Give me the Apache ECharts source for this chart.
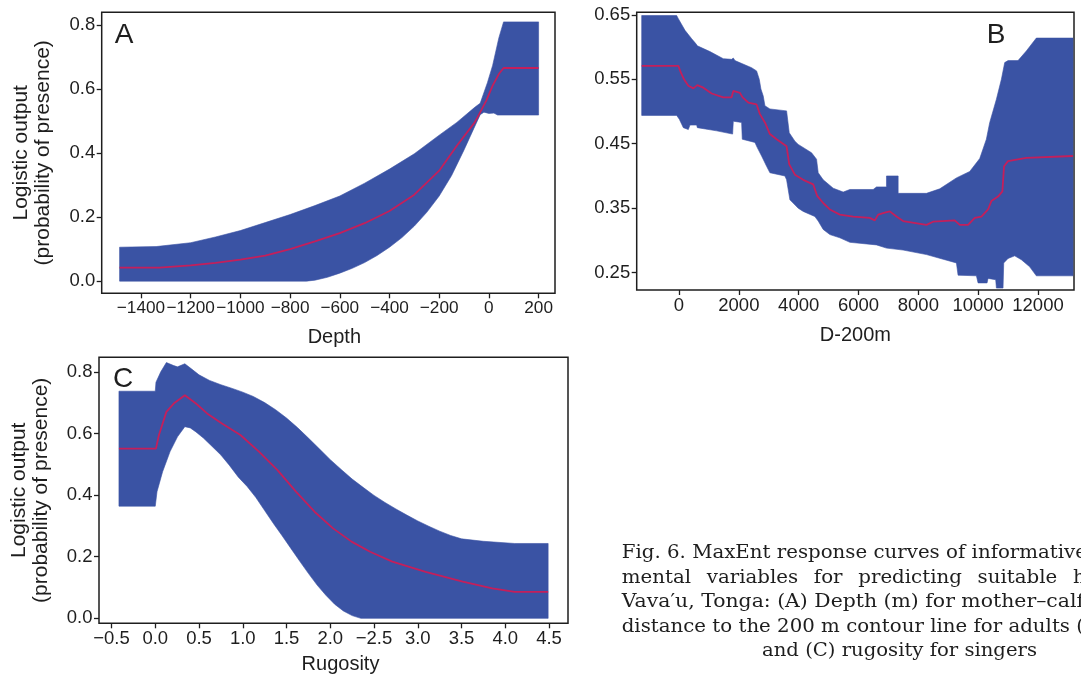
<!DOCTYPE html>
<html><head><meta charset="utf-8">
<script src="https://cdn.jsdelivr.net/npm/echarts@6/dist/echarts.min.js"></script>
<style>html,body{margin:0;padding:0;background:#fff}#c{width:1081px;height:678px}</style>
</head><body><div id="c"></div>
<script>
// ---------- Panel A : Depth ----------
const aXTicks = [-1400, -1200, -1000, -800, -600, -400, -200, 0, 200];
const aYTicks = [0, 0.2, 0.4, 0.6, 0.8];
const aUpper = [[-1486,0.106],[-1339,0.108],[-1200,0.12],[-1100,0.138],[-1000,0.158],[-900,0.183],[-800,0.208],[-700,0.236],[-600,0.266],[-500,0.306],[-400,0.35],[-300,0.398],[-200,0.456],[-129,0.496],[-57,0.543],[-35,0.556],[-6,0.62],[15,0.674],[40,0.76],[59,0.81],[200,0.81]];
const aLower = [[-1486,0],[-734,0],[-700,0.003],[-650,0.012],[-600,0.025],[-550,0.04],[-500,0.058],[-450,0.08],[-400,0.106],[-350,0.136],[-300,0.172],[-250,0.215],[-200,0.266],[-150,0.33],[-100,0.41],[-60,0.478],[-35,0.52],[-20,0.528],[0,0.524],[20,0.525],[35,0.519],[200,0.519]];
const aMean  = [[-1486,0.042],[-1325,0.042],[-1200,0.049],[-1100,0.057],[-1000,0.067],[-900,0.08],[-800,0.1],[-700,0.124],[-600,0.15],[-500,0.181],[-400,0.219],[-300,0.27],[-200,0.345],[-129,0.423],[-57,0.496],[-30,0.535],[-10,0.565],[15,0.611],[40,0.647],[59,0.666],[200,0.666]];

// ---------- Panel B : D-200m ----------
const bXTicks = [0, 2000, 4000, 6000, 8000, 10000, 12000];
const bYTicks = [0.25, 0.35, 0.45, 0.55, 0.65];
const bUpper = [[-1247,0.649],[-78,0.649],[-22,0.644],[200,0.626],[423,0.613],[568,0.605],[612,0.602],[1035,0.593],[1480,0.582],[1759,0.581],[1815,0.583],[1870,0.579],[2427,0.568],[2594,0.563],[2683,0.55],[2738,0.535],[2816,0.524],[2872,0.509],[3039,0.504],[3596,0.501],[3685,0.467],[3874,0.454],[3985,0.449],[4430,0.436],[4597,0.426],[4653,0.405],[4820,0.394],[5154,0.381],[5488,0.375],[5711,0.379],[6490,0.379],[6601,0.383],[6935,0.383],[6935,0.4],[7325,0.4],[7325,0.373],[8271,0.373],[8716,0.38],[9273,0.397],[9718,0.407],[10052,0.427],[10274,0.457],[10386,0.483],[10609,0.519],[10776,0.55],[10887,0.576],[10999,0.579],[11332,0.579],[11610,0.594],[11944,0.614],[13169,0.614]];
const bLower = [[-1247,0.494],[-78,0.494],[11,0.488],[145,0.475],[312,0.472],[367,0.479],[590,0.479],[612,0.475],[1258,0.47],[1792,0.465],[1815,0.485],[2093,0.483],[2115,0.457],[2538,0.452],[2616,0.444],[2761,0.431],[2928,0.415],[3039,0.405],[3540,0.4],[3596,0.394],[3707,0.363],[3985,0.35],[4152,0.345],[4542,0.337],[4653,0.33],[4820,0.317],[5043,0.309],[5376,0.304],[5711,0.297],[6601,0.293],[6935,0.288],[7491,0.285],[8271,0.278],[9273,0.265],[9328,0.246],[9941,0.245],[9996,0.234],[10297,0.234],[10330,0.241],[10586,0.239],[10609,0.226],[10831,0.226],[10854,0.265],[10999,0.272],[11221,0.276],[11444,0.27],[11722,0.259],[11944,0.245],[13169,0.245]];
const bMean  = [[-1247,0.571],[-22,0.571],[56,0.561],[167,0.55],[312,0.54],[479,0.536],[612,0.541],[813,0.537],[1091,0.528],[1480,0.522],[1759,0.522],[1815,0.532],[2037,0.529],[2126,0.522],[2315,0.514],[2594,0.511],[2705,0.496],[2872,0.483],[3039,0.465],[3262,0.457],[3596,0.446],[3685,0.418],[3874,0.402],[4152,0.394],[4486,0.387],[4620,0.369],[4820,0.358],[5043,0.348],[5376,0.34],[5822,0.337],[6379,0.335],[6546,0.331],[6657,0.34],[6879,0.343],[7046,0.345],[7269,0.337],[7491,0.33],[8271,0.324],[8493,0.329],[9217,0.331],[9384,0.324],[9662,0.324],[9885,0.335],[10108,0.337],[10330,0.348],[10441,0.361],[10664,0.368],[10809,0.376],[10865,0.415],[10999,0.423],[11610,0.428],[13169,0.431]];

// ---------- Panel C : Rugosity ----------
const cXTicks = [-0.5, 0, 0.5, 1, 1.5, 2, 2.5, 3, 3.5, 4, 4.5];
const cXTickLabels = ['\u22120.5','0.0','0.5','1.0','1.5','2.0','\u22122.5','3.0','3.5','4.0','4.5'];
const cYTicks = [0, 0.2, 0.4, 0.6, 0.8];
const cUpper = [[-0.415,0.737],[0.0,0.737],[0.008,0.766],[0.063,0.8],[0.127,0.83],[0.211,0.82],[0.254,0.816],[0.338,0.826],[0.42,0.808],[0.5,0.79],[0.62,0.772],[0.75,0.758],[0.88,0.746],[1.0,0.734],[1.12,0.72],[1.25,0.7],[1.375,0.677],[1.5,0.65],[1.625,0.619],[1.75,0.585],[1.875,0.55],[2.0,0.515],[2.125,0.483],[2.25,0.452],[2.375,0.425],[2.5,0.399],[2.625,0.376],[2.75,0.355],[2.875,0.335],[3.0,0.316],[3.125,0.299],[3.25,0.283],[3.375,0.269],[3.5,0.258],[3.75,0.25],[4.107,0.243],[4.49,0.243]];
const cLower = [[-0.415,0.364],[0.0,0.364],[0.02,0.411],[0.084,0.476],[0.169,0.541],[0.254,0.589],[0.338,0.622],[0.4,0.618],[0.465,0.605],[0.55,0.585],[0.635,0.562],[0.75,0.53],[0.846,0.497],[0.95,0.458],[1.05,0.428],[1.15,0.392],[1.25,0.35],[1.35,0.308],[1.45,0.268],[1.55,0.227],[1.65,0.186],[1.75,0.146],[1.85,0.108],[1.95,0.075],[2.05,0.046],[2.15,0.024],[2.25,0.009],[2.35,0],[4.49,0]];
const cMean  = [[-0.415,0.551],[0.008,0.551],[0.042,0.595],[0.127,0.67],[0.211,0.697],[0.338,0.724],[0.465,0.697],[0.592,0.665],[0.762,0.632],[0.973,0.595],[1.185,0.541],[1.397,0.481],[1.608,0.411],[1.82,0.346],[2.032,0.292],[2.243,0.249],[2.455,0.216],[2.709,0.184],[3.09,0.151],[3.514,0.119],[3.852,0.097],[4.107,0.086],[4.49,0.086]];

const yTitle = 'Logistic output\n(probability of presence)';
const captionLines = [
  'Fig. 6. MaxEnt response curves of informative',
  ['mental','variables','for','predicting','suitable','h'],
  'Vava\u2032u, Tonga: (A) Depth (m) for mother\u2013calf',
  'distance to the 200 m contour line for adults (',
  'and (C) rugosity for singers'
];

// ---------- styling ----------
const FONT = '"Liberation Sans", Arial, sans-serif';
const INK = '#1e1e1e';
const BAND = '#3a53a4';
const MEAN = '#c41f5b';
const FS = 18.5;      // tick labels
const FT = 20;        // axis titles
const minus = v => String(v).replace('-', '\u2212');

const grids = [
  {left:101.7, top:12.3, width:453.3, height:281},
  {left:636.7, top:12.3, width:437.3, height:277.7},
  {left:99,    top:357.3, width:469,  height:266}
].map(g => Object.assign({show:true, borderColor:INK, borderWidth:1.5, backgroundColor:'transparent'}, g));

function xAx(i, min, max, ticks, fmt, name, gap, shift, fs){
  return {gridIndex:i, type:'value', min, max, name, nameLocation:'middle', nameGap:gap,
    nameTextStyle:{fontFamily:FONT, fontSize:FT, color:INK, padding:[0, 0, 0, shift]},
    axisLine:{show:false, onZero:false}, splitLine:{show:false},
    axisTick:{show:true, inside:false, length:5, customValues:ticks, lineStyle:{color:INK, width:1.3}},
    axisLabel:{customValues:ticks, formatter:fmt, margin:6.5, showMinLabel:true, showMaxLabel:true, hideOverlap:false,
      fontFamily:FONT, fontSize:fs, color:INK}};
}
function yAx(i, min, max, ticks, fmt, name){
  return {gridIndex:i, type:'value', min, max, name, nameLocation:'middle', nameGap:47,
    nameTextStyle:{fontFamily:FONT, fontSize:21, color:INK, lineHeight:22},
    axisLine:{show:false, onZero:false}, splitLine:{show:false},
    axisTick:{show:true, inside:false, length:5, customValues:ticks, lineStyle:{color:INK, width:1.3}},
    axisLabel:{customValues:ticks, formatter:fmt, margin:6.5, showMinLabel:true, showMaxLabel:true, hideOverlap:false,
      fontFamily:FONT, fontSize:FS, color:INK}};
}
function band(i, upper, lower){
  return {type:'custom', xAxisIndex:i, yAxisIndex:i, silent:true, z:2,
    data:[[upper[0][0], upper[0][1]]], encode:{x:0, y:1},
    renderItem:(params, api) => {
      const pts = upper.map(p => api.coord(p)).concat(lower.slice().reverse().map(p => api.coord(p)));
      return {type:'polygon', shape:{points:pts}, style:{fill:BAND, stroke:BAND, lineWidth:0.6}};
    }};
}
function meanLine(i, data){
  return {type:'line', xAxisIndex:i, yAxisIndex:i, data, showSymbol:false, symbol:'none', silent:true, z:3,
    lineStyle:{color:MEAN, width:1.8}};
}

// ---------- caption (justified text, stretched to the printed width) ----------
const capFont = '18px "DejaVu Serif", serif';
const mctx = document.createElement('canvas').getContext('2d');
mctx.font = capFont;
const tw = s => mctx.measureText(s).width;
const capY = [553, 578, 602.5, 627, 651.5];
const capLeft = 621.7;
const lineTargets = [[0, capLeft, 1087], [2, capLeft, 1084], [3, capLeft, 1084], [4, 762, 1037]];
const graphics = [
  {type:'text', x:124, y:35, style:{text:'A', font:'28px ' + FONT, fill:INK, align:'center', verticalAlign:'middle'}},
  {type:'text', x:996, y:35, style:{text:'B', font:'28px ' + FONT, fill:INK, align:'center', verticalAlign:'middle'}},
  {type:'text', x:123, y:379, style:{text:'C', font:'28px ' + FONT, fill:INK, align:'center', verticalAlign:'middle'}}
];
lineTargets.forEach(([k, x0, x1]) => {
  const s = captionLines[k];
  graphics.push({type:'text', x:x0, y:capY[k], scaleX:(x1 - x0) / tw(s), originX:0,
    style:{text:s, font:capFont, fill:INK, verticalAlign:'middle'}});
});
// line 2: justified words, last visible word starts near the right edge
(function(){
  const words = captionLines[1], sx = 1.1;
  const widths = words.map(w => tw(w) * sx);
  const lastX = 1073;
  const used = widths.slice(0, -1).reduce((a, b) => a + b, 0);
  const gap = (lastX - capLeft - used) / (words.length - 1);
  let x = capLeft;
  words.forEach((w, k) => {
    graphics.push({type:'text', x, y:capY[1], scaleX:sx, style:{text:w, font:capFont, fill:INK, verticalAlign:'middle'}});
    x += widths[k] + gap;
  });
})();

const chart = echarts.init(document.getElementById('c'), null, {renderer:'canvas'});
chart.setOption({
  animation:false,
  backgroundColor:'#ffffff',
  grid:grids,
  xAxis:[
    xAx(0, -1558, 266, aXTicks, v => minus(v), 'Depth', 34, 12, 17.2),
    xAx(1, -1414, 13203, bXTicks, v => String(v), 'D-200m', 35, 0, FS),
    xAx(2, -0.643, 4.717, cXTicks, v => cXTickLabels[cXTicks.indexOf(v)] ?? v.toFixed(1), 'Rugosity', 31, 14, FS)
  ],
  yAxis:[
    yAx(0, -0.038, 0.84, aYTicks, v => v.toFixed(1), yTitle),
    yAx(1, 0.223, 0.654, bYTicks, v => v.toFixed(2), ''),
    yAx(2, -0.016, 0.847, cYTicks, v => v.toFixed(1), yTitle)
  ],
  series:[
    band(0, aUpper, aLower), meanLine(0, aMean),
    band(1, bUpper, bLower), meanLine(1, bMean),
    band(2, cUpper, cLower), meanLine(2, cMean)
  ],
  graphic:graphics
});
</script></body></html>
